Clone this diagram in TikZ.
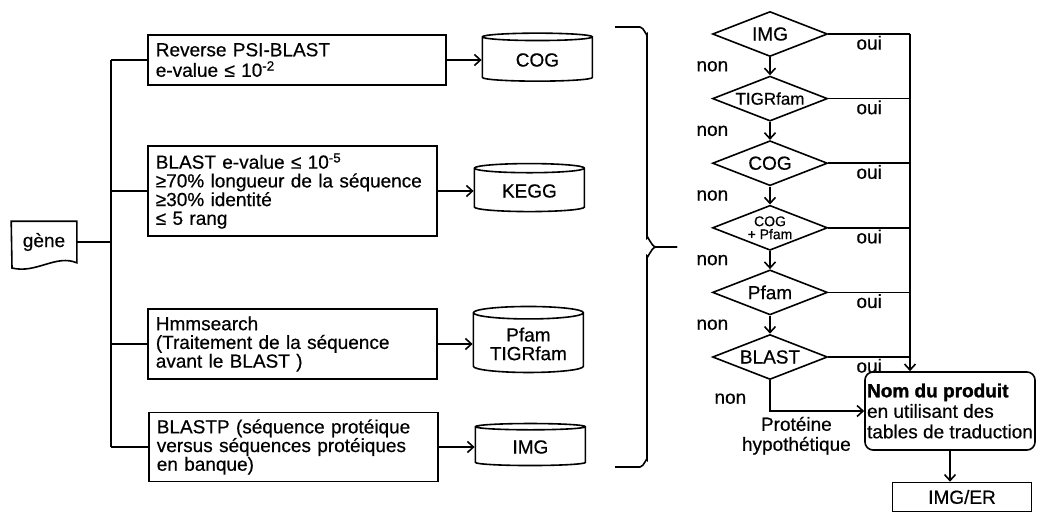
\documentclass[tikz,border=0pt]{standalone}
\usepackage{fontspec}
\setmainfont{Liberation Sans}[FakeBold=0.5, BoldFeatures={FakeBold=1.5}]
\usetikzlibrary{positioning,shapes.geometric,arrows.meta}

\begin{document}
\begin{tikzpicture}[x=1pt, y=-1pt, line width=1.6pt,
	every node/.style={font=\fontsize{19}{18.7}\selectfont, inner sep=3pt},
	proc/.style={draw, anchor=west, align=left, inner xsep=8pt, minimum height=#1},
	db/.style={draw, cylinder, shape border rotate=90, aspect=0.15, align=center, minimum width=110pt, minimum height=#1},
	choice/.style={draw, diamond, aspect=2.55, inner sep=0pt, minimum width=115pt, minimum height=45pt, align=center},
	arr/.style={-{Straight Barb[length=6pt,width=11pt]}},
	node distance=35pt]
	\useasboundingbox (0,0) rectangle (1037,512);

	% gene and the search boxes
	\node[minimum width=64pt, minimum height=40pt] (gene) at (44,242) {gène};
	\draw (gene.north west) -- (gene.north east) -- (gene.south east)
		.. controls (56,254) and (36,274) .. (12,268) -- cycle;
	\coordinate (bus) at (111,0);

	\node[proc=50pt, text width=282pt, font=\fontsize{19}{20.5}\selectfont] (b1) at (147,60) {Reverse PSI-BLAST\\e-value ≤ 10\textsuperscript{-2}};
	\node[proc=90pt, text width=273pt] (b2) at (147,191) {BLAST e-value ≤ 10\textsuperscript{-5}\\≥70\% longueur de la séquence\\≥30\% identité\\≤ 5 rang};
	\node[proc=70pt, text width=273pt] (b3) at (147,344) {Hmmsearch\\(Traitement de la séquence\\avant le BLAST )};
	\node[proc=69pt, text width=273pt] (b4) at (148,447) {BLASTP (séquence protéique\\versus séquences protéiques\\en banque)};

	\node[db=48pt, right=35pt of b1] (cog) {COG};
	\node[db=48pt, right=36pt of b2] (kegg) {KEGG};
	\node[db=66pt, right=35pt of b3] (pfam) {Pfam\\TIGRfam};
	\node[db=42pt, right=36pt of b4] (img) {IMG};

	\draw (gene.east) -- (gene.east -| bus);
	\draw (b1.west -| bus) -- (b4.west -| bus);
	\foreach \b in {b1,b2,b3,b4}
		\draw (\b.west -| bus) -- (\b.west);
	\draw[arr] (b1) -- (cog);
	\draw[arr] (b2) -- (kegg);
	\draw[arr] (b3) -- (pfam);
	\draw[arr] (b4) -- (img);

	% brace
	\draw (615,27) -- (640,27) to[out=0,in=-90] (647,34) -- (647,238)
		to[out=90,in=180] (656,247) -- (677,247);
	\draw (677,247) -- (656,247) to[out=180,in=-90] (647,256) -- (647,460)
		to[out=90,in=0] (640,467) -- (615,467);

	% decision chain
	\node[choice] (dimg) at (770,34) {IMG};
	\node[choice, below=18pt of dimg, font=\fontsize{17}{17}\selectfont] (dtigr) {TIGRfam};
	\node[choice, below=18pt of dtigr] (dcog) {COG};
	\node[choice, below=18pt of dcog, font=\fontsize{14}{13}\selectfont] (dcogp) {COG\\+ Pfam};
	\node[choice, below=18pt of dcogp] (dpfam) {Pfam};
	\node[choice, below=18pt of dpfam] (dblast) {BLAST};
	\coordinate (oui) at (910,34);

	\node[draw, rounded corners=8pt, align=left, inner xsep=2pt, minimum width=170pt, minimum height=78pt, font=\fontsize{19}{20.5}\selectfont] (prod) at (950,411)
		{\textbf{Nom du produit}\\en utilisant des\\tables de traduction};
	\node[draw, minimum width=139pt, minimum height=29pt] (imger) at (962,497) {IMG/ER};

	\foreach \a/\b in {dimg/dtigr,dtigr/dcog,dcog/dcogp,dcogp/dpfam,dpfam/dblast}
		\draw[arr] (\a.south) -- node[left=38pt] {non} (\b.north);
	\foreach \d in {dimg,dtigr,dcog,dcogp,dpfam,dblast}
		\draw (\d.east) -- node[below=0pt, inner sep=1pt] {oui} (\d.east -| oui);
	\draw[arr] (oui) -- (oui |- prod.north);
	\draw[arr] (dblast.south) |- node[pos=0.3, left=20pt] {non}
		node[pos=0.64, below=2pt, align=center, font=\fontsize{19}{20}\selectfont] {Protéine\\hypothétique} (prod.west);
	\draw[arr] (prod.south) -- (prod.south |- imger.north);
\end{tikzpicture}
\end{document}
